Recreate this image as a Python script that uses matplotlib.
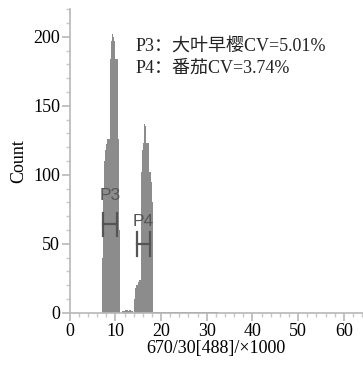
import numpy as np
import matplotlib
matplotlib.use("Agg")
import matplotlib.pyplot as plt
from matplotlib.ticker import MultipleLocator

# histogram channels (x in units of 1000), bin width 0.25
bin_w = 0.25
p3_start = 7.0
p3_counts = [40, 90, 110, 118, 122, 126, 126, 184, 197, 202, 200, 197, 184, 184, 126, 60]
gap_start = 11.0
gap_counts = [0, 0, 1, 1, 2, 2, 2, 1, 2, 2, 1, 0]
p4_start = 14.0
p4_counts = [10, 18, 20, 20, 22, 24, 102, 118, 123, 137, 135, 123, 123, 102, 102, 95, 80]
tail_start = 18.25
tail_counts = [0.6] * 57

gates = {
    "P3": {"lo": 7.3, "hi": 10.4, "y": 64, "label_y": 85},
    "P4": {"lo": 14.7, "hi": 17.5, "y": 50, "label_y": 66},
}
notes = ["P3：大叶早樱CV=5.01%", "P4：番茄CV=3.74%"]

serif = ["Liberation Serif", "Noto Sans CJK SC"]

fig = plt.figure(figsize=(3.63, 3.65), dpi=100)
ax = fig.add_axes([0.192, 0.143, 0.808, 0.832])

for start, counts in [(p3_start, p3_counts), (gap_start, gap_counts),
                      (p4_start, p4_counts), (tail_start, tail_counts)]:
    edges = start + bin_w * np.arange(len(counts) + 1)
    ax.stairs(counts, edges, fill=True, color="#8c8c8c", linewidth=0)

for name, g in gates.items():
    ax.plot([g["lo"], g["hi"]], [g["y"], g["y"]], color="#555555", lw=1.6)
    ax.plot([g["lo"], g["lo"]], [g["y"] - 8.5, g["y"] + 8.5], color="#555555", lw=1.6)
    ax.plot([g["hi"], g["hi"]], [g["y"] - 8.5, g["y"] + 8.5], color="#555555", lw=1.6)
    ax.text((g["lo"] + g["hi"]) / 2, g["label_y"], name, ha="center", va="center",
            fontsize=12.5, color="#555555", family="Liberation Sans")

ax.text(14.3, 193, notes[0], fontsize=13, family=serif, va="center", color="#222222")
ax.text(14.3, 177, notes[1], fontsize=13, family=serif, va="center", color="#222222")

ax.set_xlim(0, 64.2)
ax.set_ylim(0, 220)
ax.xaxis.set_major_locator(MultipleLocator(10))
ax.xaxis.set_minor_locator(MultipleLocator(2))
ax.yaxis.set_major_locator(MultipleLocator(50))
ax.yaxis.set_minor_locator(MultipleLocator(10))

for s in ["top", "right"]:
    ax.spines[s].set_visible(False)
for s in ["left", "bottom"]:
    ax.spines[s].set_color("#b8b8b8")
    ax.spines[s].set_linewidth(1.2)
ax.tick_params(which="major", length=6, color="#b8b8b8", width=1.2, pad=1)
ax.tick_params(which="minor", length=3, color="#c8c8c8", width=1)
for lab in ax.get_xticklabels() + ax.get_yticklabels():
    lab.set_family("Liberation Serif")
    lab.set_fontsize(13)

ax.set_xlabel("670/30[488]/×1000", family="Liberation Serif", fontsize=13, labelpad=0)
ax.set_ylabel("Count", family="Liberation Serif", fontsize=13, labelpad=4)

fig.savefig("out.png", dpi=100)
